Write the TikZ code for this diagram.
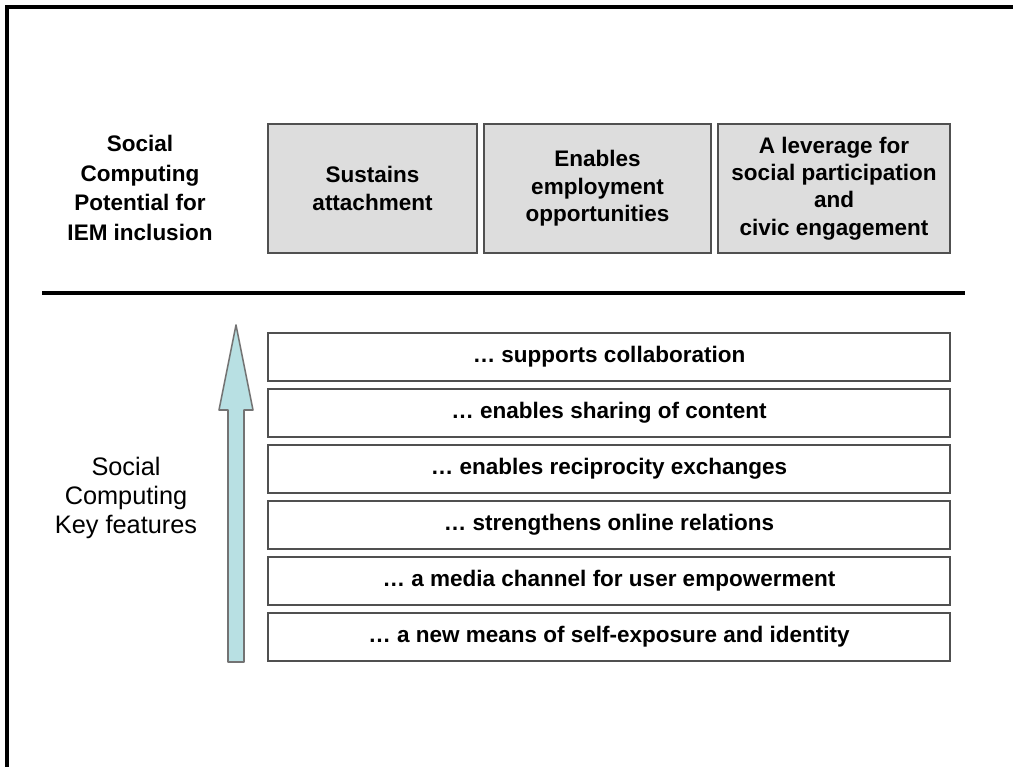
\documentclass[tikz,border=0pt]{standalone}
\usepackage{fontspec}
\setmainfont{Liberation Sans}
\usetikzlibrary{arrows.meta, calc}
\definecolor{boxgray}{HTML}{DDDDDD}
\definecolor{edgegray}{HTML}{505050}
\definecolor{arrowfill}{HTML}{B8E0E3}
\tikzset{
  potential/.style={draw=edgegray, fill=boxgray, line width=1.3pt, inner sep=0pt,
    minimum height=3.225cm, align=center, font=\bfseries\fontsize{16}{19.5}\selectfont},
  feature/.style={draw=edgegray, fill=white, line width=1.3pt, inner sep=0pt,
    minimum width=17.05cm, minimum height=1.2cm, font=\bfseries\fontsize{16}{19}\selectfont},
  sidelabel/.style={align=center, inner sep=0pt}
}
\begin{document}
\begin{tikzpicture}[x=0.025cm, y=-0.025cm]
\useasboundingbox (0,0) rectangle (1013,767);
% frame (only top and left edge are in view)
\draw[line width=2.2pt] (7,767)--(7,7)--(1013,7);
% top row
\node[sidelabel, font=\bfseries\fontsize{16}{21}\selectfont] (potlabel) at (140,188) {Social\\Computing\\Potential for\\IEM inclusion};
\node[potential, minimum width=5.225cm] (attach) at (372.5,188.5) {Sustains\\attachment};
\node[potential, minimum width=5.675cm] (employ) at (597.5,188.5) {Enables\\employment\\opportunities};
\node[potential, minimum width=5.8cm] (civic) at (834,188.5) {A leverage for\\social participation\\and\\civic engagement};
% separator
\draw[line width=3pt] (42,293)--(965,293);
% key features
\node[sidelabel, font=\fontsize{18}{20.5}\selectfont] (keylabel) at (126,498) {Social\\Computing\\Key features};
\foreach \t [count=\i] in {supports collaboration, enables sharing of content,
  enables reciprocity exchanges, strengthens online relations,
  a media channel for user empowerment, a new means of self-exposure and identity}
  \node[feature] (f\i) at (609,{357+56*(\i-1)}) {\ldots\ \t};
% upward arrow
\coordinate (tip) at (236,325);
\coordinate (tail) at (236,662);
\draw[draw=gray!90!black, fill=arrowfill, line width=1.1pt, line join=round]
  ($(tail)+(-8,0)$) -- ($(tip)+(-8,85)$) -- ($(tip)+(-17,85)$) -- (tip)
  -- ($(tip)+(17,85)$) -- ($(tip)+(8,85)$) -- ($(tail)+(8,0)$) -- cycle;
\end{tikzpicture}
\end{document}
